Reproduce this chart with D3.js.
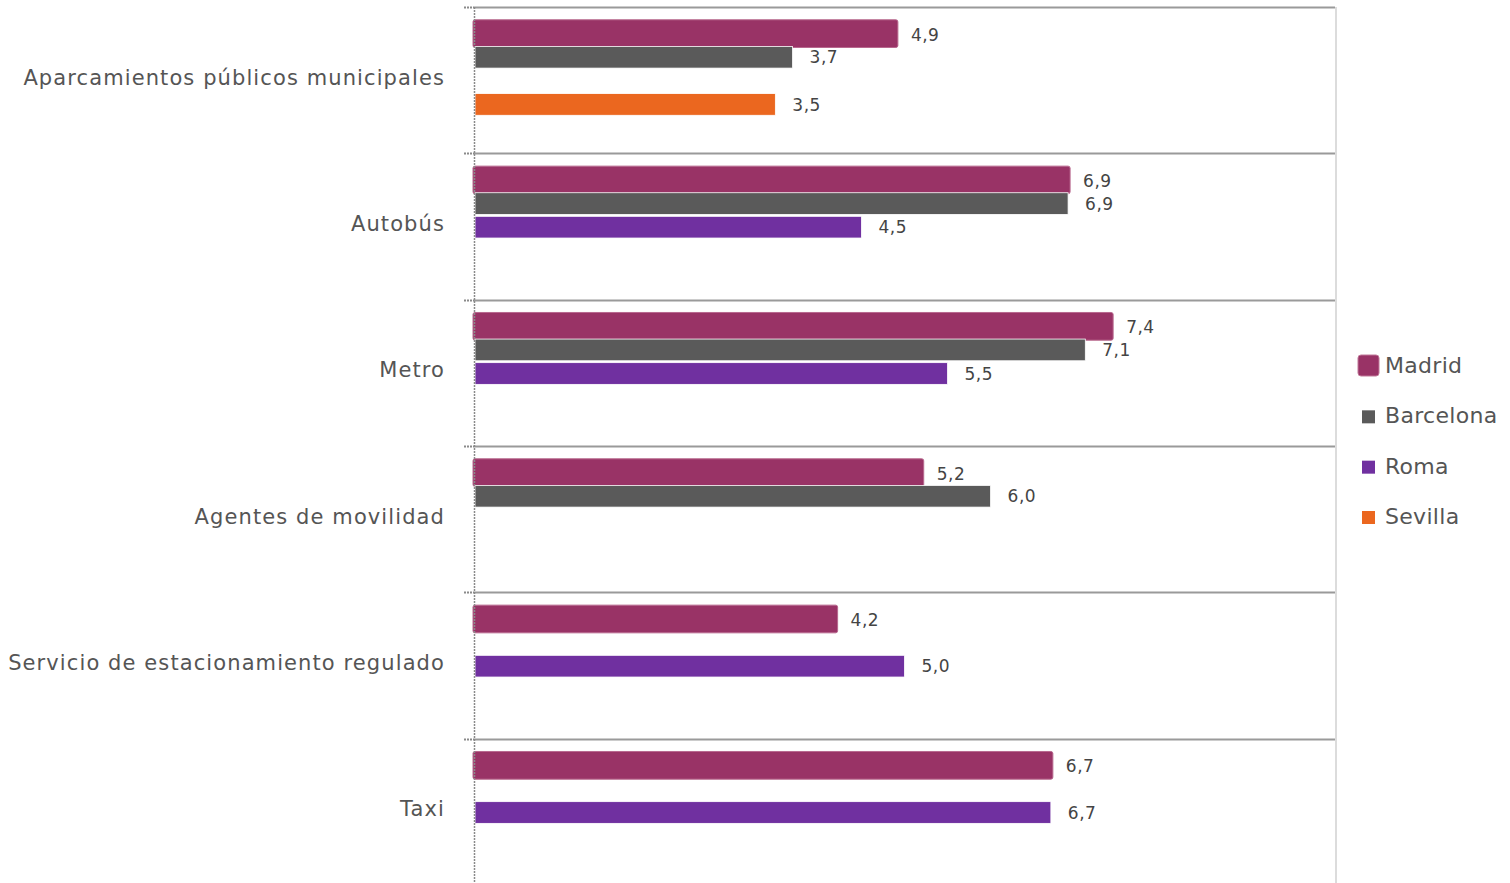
<!DOCTYPE html>
<html><head><meta charset="utf-8">
<script src="https://cdn.jsdelivr.net/npm/d3@7"></script>
<style>
html,body{margin:0;padding:0;background:#fff;}
svg{display:block;font-family:"DejaVu Sans",Verdana,sans-serif;}
</style></head>
<body>
<svg id="chart" width="1510" height="883"></svg>
<script>
const categories = ["Aparcamientos públicos municipales","Autobús","Metro","Agentes de movilidad","Servicio de estacionamiento regulado","Taxi"];
const seriesNames = ["Madrid","Barcelona","Roma","Sevilla"];
const colors = ["#993366","#5a5a5a","#7030a0","#eb671f"];
const madrid    = [4.9, 6.9, 7.4, 5.2, 4.2, 6.7];
const barcelona = [3.7, 6.9, 7.1, 6.0, null, null];
const roma      = [null, 4.5, 5.5, null, 5.0, 6.7];
const sevilla   = [3.5, null, null, null, null, null];
const seriesValues = [madrid, barcelona, roma, sevilla];

(function(){
const svg = d3.select("#chart");
const mLeft = 474, mRight = 1335, mTop = 7, mBottom = 885;

const x = d3.scaleLinear().domain([0, 10]).range([mLeft, mRight]);
const y = d3.scaleBand().domain(categories).range([mTop, mBottom]).padding(0);
const bw = y.bandwidth();
const inner = d3.scaleBand().domain(seriesNames).range([bw * 0.108, bw * 0.74]).paddingInner(0.08);

const g = svg.append("g");
categories.forEach(c => {
  const yy = Math.round(y(c)) + 0.5;
  g.append("line").attr("x1", mLeft).attr("x2", mRight).attr("y1", yy).attr("y2", yy)
    .attr("stroke", "#9a9a9a").attr("stroke-width", 2);
  g.append("line").attr("x1", 464).attr("x2", mLeft).attr("y1", yy).attr("y2", yy)
    .attr("stroke", "#8a8a8a").attr("stroke-width", 2).attr("stroke-dasharray", "2,1");
});
g.append("line").attr("x1", mRight + 1).attr("x2", mRight + 1).attr("y1", mTop).attr("y2", 883)
  .attr("stroke", "#dcdcdc").attr("stroke-width", 2);

const fmt = v => d3.format(".1f")(v).replace(".", ",");
seriesNames.forEach((s, si) => {
  const vals = seriesValues[si];
  categories.forEach((c, ci) => {
    const v = vals[ci];
    if (v == null) return;
    const y0 = y(c) + inner(s);
    const h = inner.bandwidth();
    if (si === 0) {
      svg.append("rect")
        .attr("x", x(0) - 1).attr("y", y0 - 3)
        .attr("width", x(v) - x(0) + 3).attr("height", h + 6)
        .attr("rx", 2).attr("fill", colors[si])
        .attr("stroke", "#b8688e").attr("stroke-width", 1);
    } else {
      svg.append("rect")
        .attr("x", x(0) + 1).attr("y", y0)
        .attr("width", x(v) - x(0) - 1).attr("height", h)
        .attr("fill", colors[si])
        .attr("stroke", "#ffffff").attr("stroke-width", 0.8);
    }
    svg.append("text")
      .attr("x", x(v) + (si === 0 ? 15 : 17)).attr("y", y0 + h / 2 + (si === 0 ? 1 : 0))
      .attr("dy", "0.36em")
      .attr("font-size", 17).attr("fill", "#444").attr("letter-spacing", "0.5px")
      .text(fmt(v));
  });
});

svg.append("line").attr("x1", mLeft + 0.5).attr("x2", mLeft + 0.5).attr("y1", mTop).attr("y2", 883)
  .attr("stroke", "#8a8a8a").attr("stroke-width", 1.5).attr("stroke-dasharray", "2,1");

categories.forEach(c => {
  svg.append("text")
    .attr("x", 445).attr("y", y(c) + bw / 2 - 3)
    .attr("dy", "0.36em").attr("text-anchor", "end")
    .attr("font-size", 21).attr("fill", "#555")
    .attr("letter-spacing", "1.1px")
    .text(c);
});

const ly = d3.scalePoint().domain(seriesNames).range([365, 516]);
seriesNames.forEach((s, si) => {
  const cy = ly(s);
  if (si === 0) {
    svg.append("rect").attr("x", 1358).attr("y", cy - 10).attr("width", 21).attr("height", 21)
      .attr("rx", 3).attr("fill", colors[si]).attr("stroke", "#c07898").attr("stroke-width", 1);
  } else {
    svg.append("rect").attr("x", 1362).attr("y", cy - 5).attr("width", 13).attr("height", 13)
      .attr("fill", colors[si]);
  }
  svg.append("text").attr("x", 1385).attr("y", cy).attr("dy", "0.36em")
    .attr("font-size", 22).attr("fill", "#555").attr("letter-spacing", "0.3px")
    .text(s);
});
})();
</script>
</body></html>
